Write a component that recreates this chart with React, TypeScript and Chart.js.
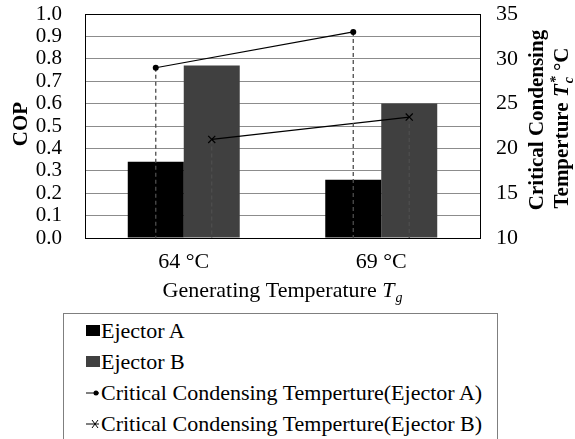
import React, { useEffect, useRef } from "react";
import { Chart, registerables } from "chart.js";

Chart.register(...registerables);

const categories = ["64 °C", "69 °C"];
const copEjectorA = [0.34, 0.26];
const copEjectorB = [0.77, 0.6];
const critTempA = [29, 33];
const critTempB = [21, 23.5];
const leftTicks = [0, 0.1, 0.2, 0.3, 0.4, 0.5, 0.6, 0.7, 0.8, 0.9, 1.0];
const rightTicks = [10, 15, 20, 25, 30, 35];

const seriesNames = [
  "Ejector A",
  "Ejector B",
  "Critical Condensing Temperture(Ejector A)",
  "Critical Condensing Temperture(Ejector B)",
];

const CAT_PCT = 0.567;
const SERIF = '"Liberation Serif", "Times New Roman", Times, serif';
const GRID = "#8c8c8c";

type Part = { t?: string; sup?: string; sub?: string; f: string };

function drawRich(ctx: CanvasRenderingContext2D, parts: Part[], cx: number, baseline: number) {
  const widths = parts.map((p) => {
    ctx.font = p.f;
    if (p.t !== undefined) return ctx.measureText(p.t).width;
    const a = p.sup ? ctx.measureText(p.sup).width : 0;
    const b = p.sub ? ctx.measureText(p.sub).width : 0;
    return Math.max(a, b) + 1;
  });
  const total = widths.reduce((s, w) => s + w, 0);
  let x = cx - total / 2;
  ctx.textAlign = "left";
  ctx.textBaseline = "alphabetic";
  parts.forEach((p, i) => {
    ctx.font = p.f;
    if (p.t !== undefined) {
      ctx.fillText(p.t, x, baseline);
    } else {
      if (p.sup) ctx.fillText(p.sup, x + 1, baseline - 8);
      if (p.sub) ctx.fillText(p.sub, x + 1, baseline + 5);
    }
    x += widths[i];
  });
}

const dropLinePlugin = {
  id: "dropLines",
  beforeDatasetDraw(chart: any, args: any) {
    const meta = args.meta;
    if (meta.type !== "line") return;
    const { ctx, chartArea } = chart;
    ctx.save();
    ctx.strokeStyle = "#4d4d4d";
    ctx.lineWidth = 1.3;
    ctx.setLineDash([4, 3]);
    meta.data.forEach((pt: any) => {
      ctx.beginPath();
      ctx.moveTo(pt.x, pt.y);
      ctx.lineTo(pt.x, chartArea.bottom);
      ctx.stroke();
    });
    ctx.restore();
  },
};

const titlePlugin = {
  id: "richTitles",
  afterDraw(chart: any) {
    const ctx: CanvasRenderingContext2D = chart.ctx;
    const ca = chart.chartArea;
    ctx.save();
    ctx.fillStyle = "#000";
    ctx.save();
    ctx.translate(27, 124);
    ctx.rotate(-Math.PI / 2);
    drawRich(ctx, [{ t: "COP", f: `bold 21px ${SERIF}` }], 0, 0);
    ctx.restore();
    drawRich(
      ctx,
      [
        { t: "Generating Temperature ", f: `22px ${SERIF}` },
        { t: "T", f: `italic 22px ${SERIF}` },
        { sub: "g", f: `italic 14px ${SERIF}` },
      ],
      (ca.left + ca.right) / 2,
      297
    );
    ctx.save();
    ctx.translate(543, 120);
    ctx.rotate(-Math.PI / 2);
    drawRich(ctx, [{ t: "Critical Condensing", f: `bold 21px ${SERIF}` }], 0, 0);
    ctx.restore();
    ctx.save();
    ctx.translate(568, 128);
    ctx.rotate(-Math.PI / 2);
    drawRich(
      ctx,
      [
        { t: "Temperture ", f: `bold 21px ${SERIF}` },
        { t: "T", f: `bold italic 21px ${SERIF}` },
        { sup: "*", sub: "c", f: `bold italic 14px ${SERIF}` },
        { t: " °C", f: `bold 21px ${SERIF}` },
      ],
      0,
      0
    );
    ctx.restore();
    ctx.restore();
  },
};

export default function App() {
  const ref = useRef<HTMLCanvasElement | null>(null);

  useEffect(() => {
    if (!ref.current) return;
    const off = CAT_PCT / 4;
    const chart = new Chart(ref.current, {
      type: "bar",
      data: {
        datasets: [
          {
            type: "bar",
            label: seriesNames[0],
            data: copEjectorA.map((v, i) => ({ x: i, y: v })),
            backgroundColor: "#000000",
            yAxisID: "y",
            xAxisID: "x",
            order: 2,
            categoryPercentage: CAT_PCT,
            barPercentage: 1,
          },
          {
            type: "bar",
            label: seriesNames[1],
            data: copEjectorB.map((v, i) => ({ x: i, y: v })),
            backgroundColor: "#404040",
            yAxisID: "y",
            xAxisID: "x",
            order: 2,
            categoryPercentage: CAT_PCT,
            barPercentage: 1,
          },
          {
            type: "line",
            label: seriesNames[2],
            data: critTempA.map((v, i) => ({ x: i - off, y: v })),
            borderColor: "#000",
            backgroundColor: "#000",
            borderWidth: 1.2,
            pointStyle: "circle",
            pointRadius: 3,
            pointBorderWidth: 0,
            yAxisID: "y2",
            xAxisID: "x",
            order: 0,
          },
          {
            type: "line",
            label: seriesNames[3],
            data: critTempB.map((v, i) => ({ x: i + off, y: v })),
            borderColor: "#000",
            backgroundColor: "#000",
            borderWidth: 1.2,
            pointStyle: "crossRot",
            pointRadius: 5,
            pointBorderWidth: 1.2,
            yAxisID: "y2",
            xAxisID: "x",
            order: 0,
          },
        ] as any,
      },
      options: {
        animation: false,
        responsive: false,
        layout: { padding: { top: 14, left: 0, right: 0, bottom: 0 } },
        plugins: { legend: { display: false }, tooltip: { enabled: false } },
        scales: {
          x: {
            type: "linear",
            offset: false,
            min: -0.5,
            max: 1.5,
            afterBuildTicks: (s: any) => {
              s.ticks = categories.map((_, i) => ({ value: i }));
            },
            grid: { display: true, drawOnChartArea: false, drawTicks: false },
            border: { display: true, color: "#000", width: 1 },
            ticks: {
              color: "#000",
              font: { family: SERIF, size: 22 },
              padding: 11,
              maxRotation: 0,
              autoSkip: false,
              callback: (v: any) => categories[Math.round(Number(v))] ?? "",
            },
            afterFit: (s: any) => {
              s.height = 201;
              s.paddingLeft = 0;
              s.paddingRight = 0;
            },
          },
          y: {
            type: "linear",
            position: "left",
            min: leftTicks[0],
            max: leftTicks[leftTicks.length - 1],
            grid: {
              display: true,
              drawTicks: false,
              lineWidth: 1,
              color: (c: any) =>
                c.tick && c.tick.value >= leftTicks[leftTicks.length - 1] - 1e-6 ? "#000000" : GRID,
            },
            border: { display: true, color: "#000", width: 1 },
            ticks: {
              stepSize: leftTicks[1] - leftTicks[0],
              autoSkip: false,
              color: "#000",
              font: { family: SERIF, size: 21 },
              padding: 23,
              callback: (v: any) => Number(v).toFixed(1),
            },
            afterFit: (s: any) => {
              s.width = 85;
              s.paddingTop = 0;
              s.paddingBottom = 0;
            },
          },
          y2: {
            type: "linear",
            position: "right",
            min: rightTicks[0],
            max: rightTicks[rightTicks.length - 1],
            grid: { display: true, drawOnChartArea: false, drawTicks: false },
            border: { display: true, color: "#000", width: 1 },
            ticks: {
              stepSize: rightTicks[1] - rightTicks[0],
              autoSkip: false,
              color: "#000",
              font: { family: SERIF, size: 22 },
              padding: 16,
            },
            afterFit: (s: any) => {
              s.width = 95;
              s.paddingTop = 0;
              s.paddingBottom = 0;
            },
          },
        },
      } as any,
      plugins: [dropLinePlugin, titlePlugin],
    });
    return () => chart.destroy();
  }, []);

  const rowStyle: React.CSSProperties = {
    display: "flex",
    alignItems: "center",
    height: 31,
    whiteSpace: "nowrap",
  };
  const square = (color: string) => (
    <span style={{ display: "inline-block", width: 14, height: 11, background: color, marginRight: 1 }} />
  );
  const lineMarker = (kind: "dot" | "cross") => (
    <svg width={14} height={12} style={{ marginRight: 1 }}>
      <line x1={0} y1={6} x2={13} y2={6} stroke="#000" strokeWidth={1} />
      {kind === "dot" ? (
        <circle cx={10} cy={6} r={2.5} fill="#000" />
      ) : (
        <g stroke="#000" strokeWidth={1}>
          <line x1={6} y1={2} x2={12} y2={10} />
          <line x1={12} y1={2} x2={6} y2={10} />
        </g>
      )}
    </svg>
  );

  return (
    <div
      style={{
        position: "fixed",
        left: 0,
        top: 0,
        width: 575,
        height: 439,
        overflow: "hidden",
        background: "#fff",
      }}
    >
      <canvas ref={ref} width={575} height={439} style={{ display: "block", width: 575, height: 439 }} />
      <div
        style={{
          position: "absolute",
          left: 63,
          top: 313,
          width: 435,
          height: 200,
          boxSizing: "border-box",
          border: "1.5px solid #7f7f7f",
          background: "#fff",
          paddingTop: 1,
          paddingLeft: 22,
          fontFamily: SERIF,
          fontSize: 22,
          color: "#000",
        }}
      >
        <div style={rowStyle}>
          {square("#000000")}
          <span>{seriesNames[0]}</span>
        </div>
        <div style={rowStyle}>
          {square("#404040")}
          <span>{seriesNames[1]}</span>
        </div>
        <div style={rowStyle}>
          {lineMarker("dot")}
          <span>{seriesNames[2]}</span>
        </div>
        <div style={rowStyle}>
          {lineMarker("cross")}
          <span>{seriesNames[3]}</span>
        </div>
      </div>
    </div>
  );
}
